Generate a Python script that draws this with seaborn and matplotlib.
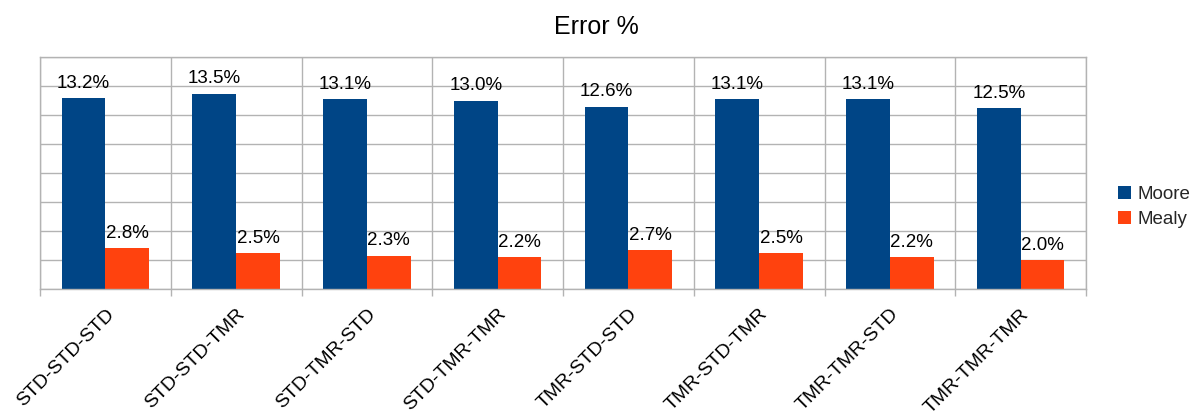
import matplotlib
matplotlib.use("Agg")
import matplotlib.pyplot as plt
import seaborn as sns
import pandas as pd
import numpy as np

categories = ["STD-STD-STD", "STD-STD-TMR", "STD-TMR-STD", "STD-TMR-TMR",
              "TMR-STD-STD", "TMR-STD-TMR", "TMR-TMR-STD", "TMR-TMR-TMR"]
moore = [13.2, 13.5, 13.1, 13.0, 12.6, 13.1, 13.1, 12.5]
mealy = [2.8, 2.5, 2.3, 2.2, 2.7, 2.5, 2.2, 2.0]
series = ["Moore", "Mealy"]
colors = ["#004586", "#ff420e"]

df = pd.DataFrame({
    "cat": categories * 2,
    "val": moore + mealy,
    "series": ["Moore"] * len(categories) + ["Mealy"] * len(categories),
})

sns.set_theme(style="white")
plt.rcParams["font.family"] = ["Liberation Sans", "DejaVu Sans"]

fig = plt.figure(figsize=(11.92, 4.11), dpi=100)
ax = fig.add_axes([40/1192, 1-289/411, (1086-40)/1192, (289-57.3)/411])

sns.barplot(data=df, x="cat", y="val", hue="series", hue_order=series,
            palette=colors, width=0.668, ax=ax, saturation=1, legend=True,
            edgecolor="none", linewidth=0)

ax.set_xlim(-0.5, len(categories) - 0.5)
ax.set_ylim(0, 16)
ax.set_yticks(np.arange(0, 17, 2))
ax.set_yticklabels([])
ax.set_xlabel("")
ax.set_ylabel("")

grid_c = "#b3b3b3"
ax.set_xticks(np.arange(-0.5, len(categories), 1), minor=True)
ax.grid(axis="y", which="major", color=grid_c, linewidth=1)
ax.grid(axis="x", which="minor", color=grid_c, linewidth=1)
ax.set_axisbelow(True)
for s in ax.spines.values():
    s.set_color(grid_c)
    s.set_linewidth(1)

ax.tick_params(axis="y", which="both", length=0)
ax.tick_params(axis="x", which="minor", length=5, color=grid_c, width=1, direction="out", bottom=True)
ax.tick_params(axis="x", which="major", length=0, pad=12)
ax.set_xticks(range(len(categories)))
ax.set_xticklabels(categories, rotation=45, ha="right", va="top",
                   rotation_mode="anchor", fontsize=14, color="black")

for cont in ax.containers:
    for bar in cont:
        h = bar.get_height()
        ax.annotate(f"{h:.1f}%", (bar.get_x() + bar.get_width()/2, h),
                    xytext=(0, 4.5), textcoords="offset points",
                    ha="center", va="bottom", fontsize=13.5, color="black")

leg = ax.legend(loc="center left", bbox_to_anchor=(1117.7/1192, 1-207/411),
                bbox_transform=fig.transFigure, frameon=False, fontsize=13.5,
                handlelength=0.7, handleheight=0.7, handletextpad=0.35,
                labelspacing=0.45, borderpad=0, borderaxespad=0)

fig.text(0.5, 1-27/411, "Error %", ha="center", va="center", fontsize=18, color="black")

fig.savefig("out.png", dpi=100)
